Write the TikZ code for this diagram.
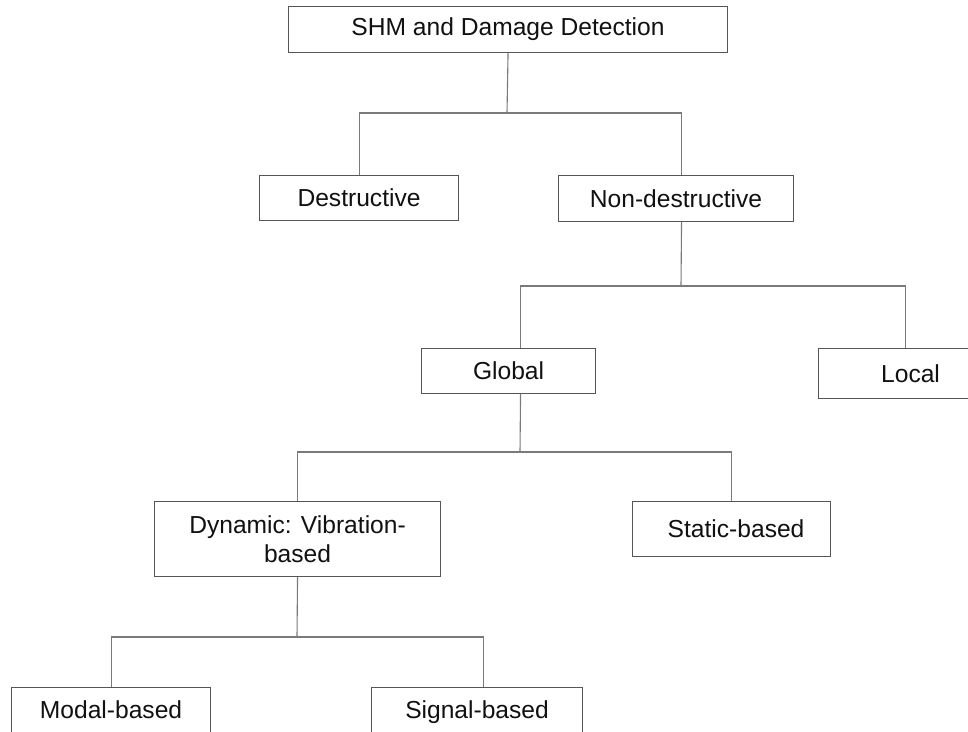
\documentclass[tikz,border=0pt]{standalone}
\usepackage{fontspec}
\setmainfont{Liberation Sans}
\definecolor{boxc}{HTML}{555555}
\definecolor{linec}{HTML}{7A7A7A}
\definecolor{txt}{HTML}{111111}
\begin{document}
\begin{tikzpicture}[x=1pt,y=-1pt,
  box/.style={draw=boxc, line width=1.1pt, rectangle, inner sep=0pt, anchor=north west,
    font=\fontsize{24.6}{29}\selectfont, text=txt, align=center},
  conn/.style={draw=linec, line width=1.1pt}]
\useasboundingbox (0,0) rectangle (968,731);
\fill[white] (0,0) rectangle (968,731);
\clip (0,0) rectangle (968,731);
% nodes
\node[box, minimum width=439pt, minimum height=46pt] (top) at (288,6) {SHM and Damage Detection};
\node[box, minimum width=199pt, minimum height=45pt] (de) at (259,175) {Destructive};
\node[box, minimum width=235pt, minimum height=46pt] (nd) at (558,175) {Non-destructive};
\node[box, minimum width=174pt, minimum height=45pt] (gl) at (421,348) {Global};
\node[box, minimum width=184pt, minimum height=50pt] (lo) at (818,348) {Local};
\node[box, minimum width=286pt, minimum height=75pt] (dy) at (154,501) {Dynamic: Vibration-\\based};
\node[box, minimum width=198pt, minimum height=55pt] (st) at (632,501) {\raisebox{-8pt}{\hspace*{9pt}Static-based}};
\node[box, minimum width=199pt, minimum height=60pt] (mo) at (11,687) {\raisebox{16pt}{Modal-based}};
\node[box, minimum width=211pt, minimum height=60pt] (si) at (371,687) {\raisebox{16pt}{Signal-based}};
% junctions
\coordinate (j1) at (507,113);
\coordinate (j2) at (681,286);
\coordinate (j3) at (520,452);
\coordinate (j4) at (297,637);
% connectors
\draw[conn] (top.south) -- (j1);
\draw[conn] (de.north) |- (j1) -| ([xshift=5.5pt]nd.north);
\draw[conn] ([xshift=5.5pt]nd.south) -- (j2);
\draw[conn] ([xshift=12pt]gl.north) |- (j2) -| ([xshift=-5pt]lo.north);
\draw[conn] ([xshift=12pt]gl.south) -- (j3);
\draw[conn] (dy.north) |- (j3) -| (st.north);
\draw[conn] (dy.south) -- (j4);
\draw[conn] (mo.north) |- (j4) -| ([xshift=6.5pt]si.north);
\end{tikzpicture}
\end{document}
